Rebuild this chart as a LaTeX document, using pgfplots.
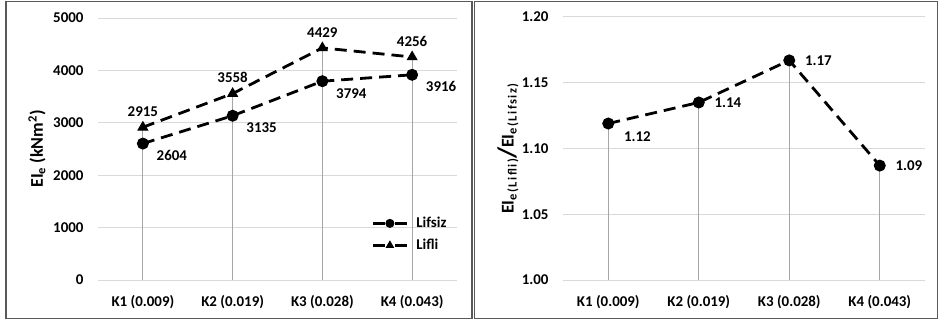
\documentclass[border=0pt]{standalone}
\usepackage{fontspec}
\setmainfont{Carlito}
\newfontfamily\subfont[LetterSpace=12]{Carlito}
\usepackage{pgfplots}
\usepackage{pgfplotstable}
\pgfplotsset{compat=1.18}

\definecolor{gridc}{HTML}{D9D9D9}
\definecolor{dropc}{HTML}{A6A6A6}
\definecolor{framec}{HTML}{595959}

\pgfplotstableread{
x y lab
0 2604 2604
1 3135 3135
2 3794 3794
3 3916 3916
}\lifsiz
\pgfplotstableread{
x y lab
0 2915 2915
1 3558 3558
2 4429 4429
3 4256 4256
}\lifli
\pgfplotstableread{
x y lab dy
0 1.119 1.12 -13
1 1.135 1.14 0
2 1.167 1.17 0
3 1.087 1.09 0
}\oran

\pgfplotsset{
  common/.style={
    scale only axis,
    anchor=south west,
    xmin=-0.5, xmax=3.5,
    xtick={0,1,2,3},
    xticklabels={K1 (0.009),K2 (0.019),K3 (0.028),K4 (0.043)},
    axis line style={draw=none},
    major tick length=0pt,
    ymajorgrids,
    grid style={gridc, line width=1bp},
    /pgf/number format/assume math mode=true,
    /pgf/number format/1000 sep={},
    yticklabel style={xshift=-11bp},
    xticklabel style={yshift=-12bp},
    clip=false,
  },
  dline/.style={black, line width=2.8bp, dash pattern=on 12bp off 7bp},
}

\begin{document}
\begin{tikzpicture}[x=1bp,y=1bp,font=\bfseries\fontsize{15}{18}\selectfont]
\useasboundingbox (0,0) rectangle (939,322);
\draw[framec, line width=1.3bp] (6,3.5) rectangle (472,320.5);
\draw[framec, line width=1.3bp] (474.5,3.5) rectangle (937.5,320.5);

\begin{axis}[common,
  at={(98bp,42bp)}, width=359bp, height=262bp,
  ymin=0, ymax=5000, ytick={0,1000,...,5000},
  ylabel={\fontsize{18}{20}\selectfont EI\textsubscript{e} (kNm\textsuperscript{2})},
  ylabel style={at={([xshift=-61bp]rel axis cs:0,0.5)}, anchor=center},
  legend style={at={(0.985,0.255)}, anchor=north east, draw=none, fill=none,
    row sep=6bp, font=\bfseries\fontsize{15}{18}\selectfont,
    /tikz/every odd column/.append style={column sep=6bp}},
  legend cell align=left,
  legend image code/.code={
    \draw[#1, solid] (0bp,0bp) -- (12bp,0bp);
    \draw[#1, solid] (22bp,0bp) -- (34bp,0bp);
    \draw[#1, solid, mark size=4bp] plot coordinates {(17bp,0bp)};
  },
]
\addplot[ycomb, dropc, line width=1bp, forget plot] table[x=x,y=y] {\lifli};
\addplot[dline, mark=*, mark size=5.5bp, mark options={solid, line width=1bp},
  point meta=explicit symbolic, nodes near coords,
  every node near coord/.append style={anchor=west, xshift=10bp, yshift=-12bp, black}]
  table[x=x,y=y,meta=lab] {\lifsiz};
\addlegendentry{Lifsiz}
\addplot[dline, mark=triangle*, mark size=5.5bp, mark options={solid, line width=1bp},
  point meta=explicit symbolic, nodes near coords,
  every node near coord/.append style={anchor=south, yshift=7bp, black}]
  table[x=x,y=y,meta=lab] {\lifli};
\addlegendentry{Lifli}
\end{axis}

\begin{axis}[common,
  at={(563bp,42bp)}, width=362bp, height=263bp,
  ymin=1.0, ymax=1.2, ytick={1.00,1.05,...,1.21},
  yticklabel style={/pgf/number format/.cd, fixed, fixed zerofill, precision=2},
  ylabel={\fontsize{18}{20}\selectfont EI\raisebox{-3bp}{\fontsize{12.5}{13}\subfont e(Lifli)}\raisebox{-2bp}{\fontsize{26}{26}\selectfont/}EI\raisebox{-3bp}{\fontsize{12.5}{13}\subfont e(Lifsiz)}},
  ylabel style={at={([xshift=-55bp]rel axis cs:0,0.5)}, anchor=center},
]
\addplot[ycomb, dropc, line width=1bp, forget plot] table[x=x,y=y] {\oran};
\addplot[dline, mark=*, mark size=5.5bp, mark options={solid, line width=1bp},
  point meta=explicit symbolic, nodes near coords,
  visualization depends on={\thisrow{dy} \as \dy},
  every node near coord/.append style={anchor=west, xshift=12bp, yshift=\dy bp, black}]
  table[x=x,y=y,meta=lab] {\oran};
\end{axis}
\end{tikzpicture}
\end{document}
